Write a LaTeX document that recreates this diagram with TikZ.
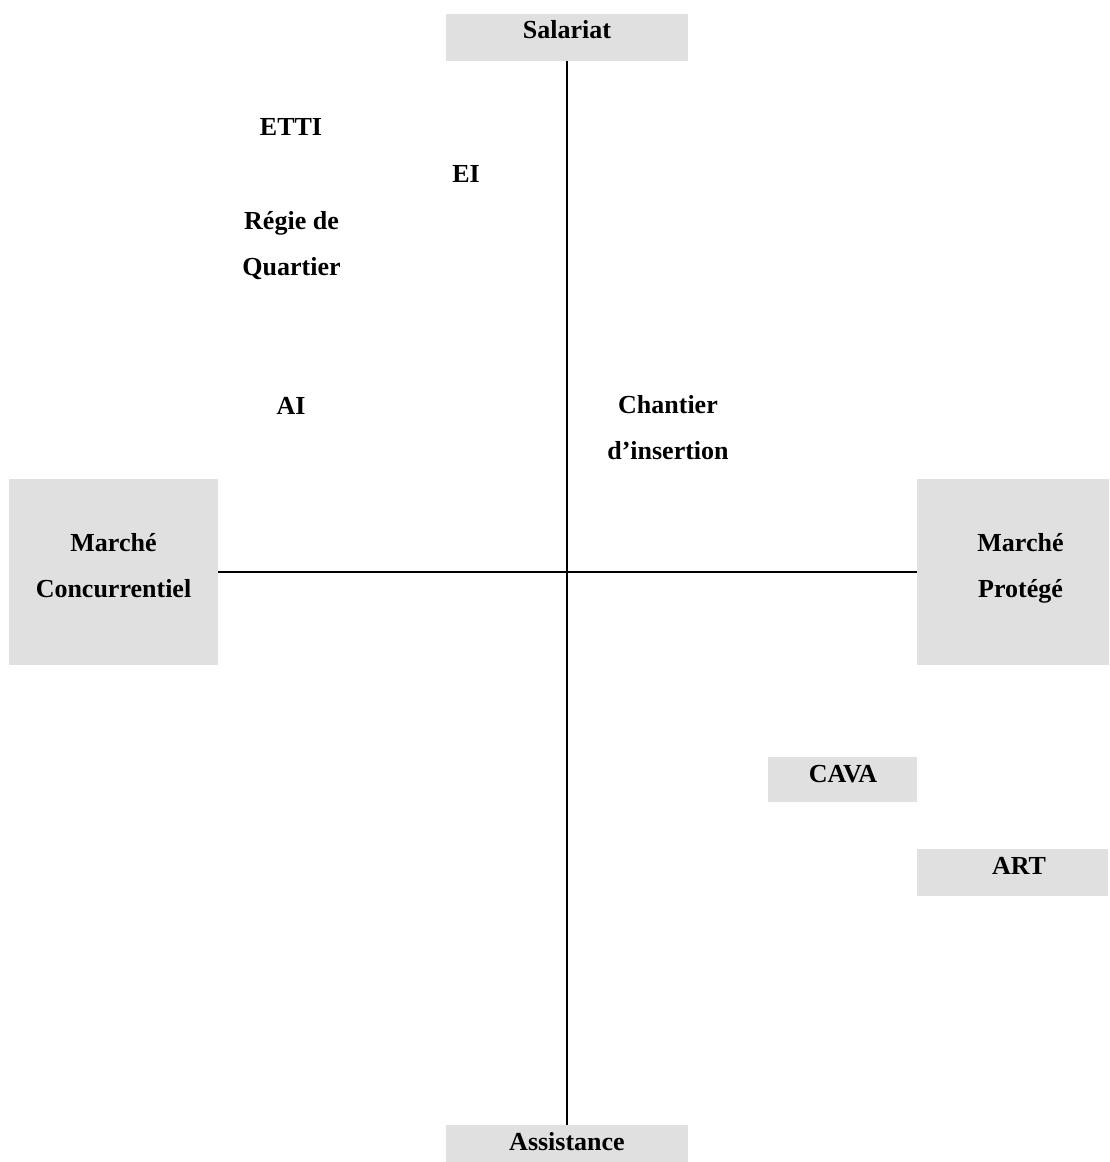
\documentclass[tikz,border=0pt]{standalone}
\usepackage{fontspec}
\setmainfont{Liberation Serif}
\definecolor{boxgray}{RGB}{224,224,224}
\begin{document}
\begin{tikzpicture}[x=1pt,y=-1pt,
  greybox/.style={rectangle,fill=boxgray,draw=none,inner sep=0pt},
  lbl/.style={anchor=base,inner sep=0pt,font=\fontsize{26}{30}\selectfont\bfseries},
  axis/.style={line width=2pt,black}]
\useasboundingbox (0,0) rectangle (1109,1162);
% boxes
\node[greybox,minimum width=242pt,minimum height=47pt] (sal) at (567,37.5) {};
\node[greybox,minimum width=242pt,minimum height=37pt] (asst) at (567,1143.5) {};
\node[greybox,minimum width=209pt,minimum height=186pt] (mc) at (113.5,572) {};
\node[greybox,minimum width=192pt,minimum height=186pt] (mp) at (1013,572) {};
\node[greybox,minimum width=149pt,minimum height=45pt] (cava) at (842.5,779.5) {};
\node[greybox,minimum width=191pt,minimum height=47pt] (art) at (1012.5,872.5) {};
% axes
\draw[axis] (sal.south) -- (asst.north);
\draw[axis] (mc.east) -- (mp.west);
% labels
\node[lbl] (tsal) at (567,38.5) {Salariat};
\node[lbl] (tasst) at (567,1150.5) {Assistance};
\node[lbl] (tmc1) at (113.5,551.5) {Marché};
\node[lbl] (tmc2) at (113.5,597) {Concurrentiel};
\node[lbl] (tmp1) at (1020.5,551.5) {Marché};
\node[lbl] (tmp2) at (1020.5,597) {Protégé};
\node[lbl] (tcava) at (843,782.5) {CAVA};
\node[lbl] (tart) at (1019,874.5) {ART};
\node[lbl] (etti) at (291,135.5) {ETTI};
\node[lbl] (ei) at (466,182.5) {EI};
\node[lbl] (regie1) at (291.5,229) {Régie de};
\node[lbl] (regie2) at (291.5,275) {Quartier};
\node[lbl] (ai) at (291,414) {AI};
\node[lbl] (ch1) at (668,413.5) {Chantier};
\node[lbl] (ch2) at (668,459.5) {d’insertion};
\end{tikzpicture}
\end{document}
